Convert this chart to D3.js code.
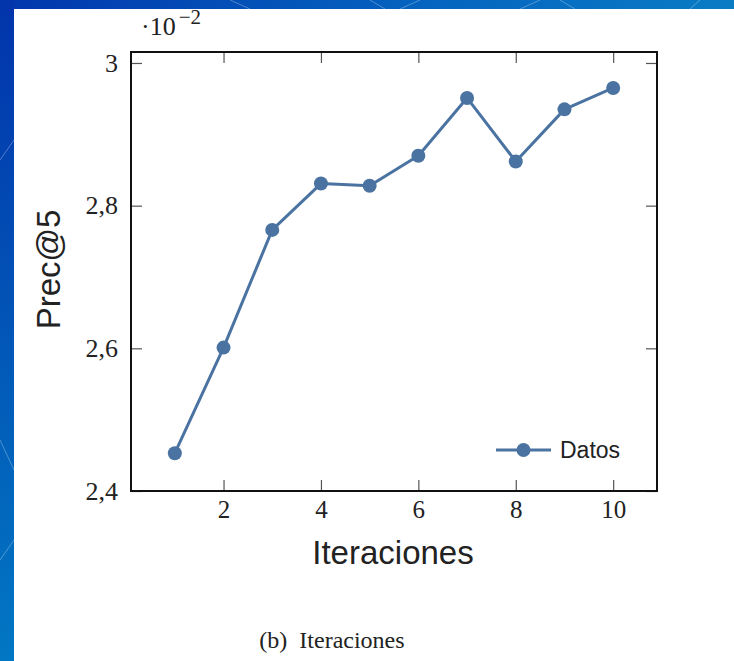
<!DOCTYPE html>
<html>
<head>
<meta charset="utf-8">
<script src="https://cdn.jsdelivr.net/npm/d3@7"></script>
<style>
html,body{margin:0;padding:0;background:#fff;}
svg{display:block;}
</style>
</head>
<body>
<svg id="chart" width="734" height="661"></svg>
<script>
// ---- data ----
const iterations = [1, 2, 3, 4, 5, 6, 7, 8, 9, 10];
const precValues = [2.453, 2.601, 2.766, 2.831, 2.828, 2.870, 2.951, 2.862, 2.935, 2.965];
const xTickValues = [2, 4, 6, 8, 10];
const yTickValues = [2.4, 2.6, 2.8, 3.0];
const yTickLabels = ["2,4", "2,6", "2,8", "3"];
const seriesName = "Datos";
const xTitle = "Iteraciones";
const yTitle = "Prec@5";
const caption = "(b)\u2002Iteraciones";

(function () {
const svg = d3.select("#chart");
const W = 734, H = 661;

// slide background
const defs = svg.append("defs");
const gradL = defs.append("linearGradient").attr("id", "bgL")
  .attr("x1", "0").attr("y1", "0").attr("x2", "0").attr("y2", "1");
gradL.append("stop").attr("offset", "0").attr("stop-color", "#0234ab");
gradL.append("stop").attr("offset", "1").attr("stop-color", "#0277c3");
const gradT = defs.append("linearGradient").attr("id", "bgT")
  .attr("x1", "0").attr("y1", "0").attr("x2", "1").attr("y2", "0");
gradT.append("stop").attr("offset", "0").attr("stop-color", "#0236ad");
gradT.append("stop").attr("offset", "0.6").attr("stop-color", "#0565c0");
gradT.append("stop").attr("offset", "1").attr("stop-color", "#0a7cc4");

svg.append("rect").attr("x", 0).attr("y", 0).attr("width", W).attr("height", H).attr("fill", "#ffffff");
svg.append("rect").attr("x", 0).attr("y", 0).attr("width", W).attr("height", 9).attr("fill", "url(#bgT)");
svg.append("rect").attr("x", 0).attr("y", 0).attr("width", 14).attr("height", H).attr("fill", "url(#bgL)");

// faint network lines in the slide background
const bgLines = svg.append("g").attr("stroke", "#ffffff").attr("stroke-opacity", 0.3).attr("fill", "none").attr("stroke-width", 1);
[[230, 0, 250, 9], [370, 0, 385, 9], [540, 0, 520, 9], [560, 0, 575, 9],
 [420, 0, 400, 9], [700, 0, 690, 9]].forEach(l => {
  bgLines.append("line").attr("x1", l[0]).attr("y1", l[1]).attr("x2", l[2]).attr("y2", l[3]);
});
[[0, 160, 14, 140], [0, 440, 14, 470], [0, 560, 14, 540]].forEach(l => {
  bgLines.append("line").attr("x1", l[0]).attr("y1", l[1]).attr("x2", l[2]).attr("y2", l[3]);
});

// ---- plot area ----
const pL = 131, pR = 657, pT = 52, pB = 491;
const x = d3.scaleLinear().domain([0.1, 10.9]).range([pL, pR]);
const y = d3.scaleLinear().domain([2.4, 3.0154]).range([pB, pT]);

const tickLen = 11;
const tickColor = "#555";
const serif = "'Liberation Serif','DejaVu Serif',serif";
const sans = "'Liberation Sans',Arial,sans-serif";

// bottom axis (ticks inward)
const xAxisB = d3.axisBottom(x).tickValues(xTickValues).tickSize(-tickLen).tickPadding(9)
  .tickFormat(d3.format("d"));
const gxb = svg.append("g").attr("transform", `translate(0,${pB})`).call(xAxisB);
gxb.select(".domain").remove();
gxb.selectAll(".tick line").attr("stroke", tickColor).attr("stroke-width", 1.2);
gxb.selectAll(".tick text").attr("font-family", serif).attr("font-size", 25).attr("fill", "#222");

// top axis ticks
const xAxisT = d3.axisTop(x).tickValues(xTickValues).tickSize(-tickLen).tickFormat("");
const gxt = svg.append("g").attr("transform", `translate(0,${pT})`).call(xAxisT);
gxt.select(".domain").remove();
gxt.selectAll(".tick line").attr("stroke", tickColor).attr("stroke-width", 1.2);

// left axis
const yAxisL = d3.axisLeft(y).tickValues(yTickValues).tickSize(-tickLen).tickPadding(13)
  .tickFormat((d, i) => yTickLabels[i]);
const gyl = svg.append("g").attr("transform", `translate(${pL},0)`).call(yAxisL);
gyl.select(".domain").remove();
gyl.selectAll(".tick line").attr("stroke", tickColor).attr("stroke-width", 1.2);
gyl.selectAll(".tick text").attr("font-family", serif).attr("font-size", 26).attr("fill", "#222");

// right axis ticks
const yAxisR = d3.axisRight(y).tickValues(yTickValues).tickSize(-tickLen).tickFormat("");
const gyr = svg.append("g").attr("transform", `translate(${pR},0)`).call(yAxisR);
gyr.select(".domain").remove();
gyr.selectAll(".tick line").attr("stroke", tickColor).attr("stroke-width", 1.2);

// frame
svg.append("rect").attr("x", pL).attr("y", pT).attr("width", pR - pL).attr("height", pB - pT)
  .attr("fill", "none").attr("stroke", "#111").attr("stroke-width", 2);

// scale factor label ·10^-2
const sf = svg.append("text").attr("x", 141).attr("y", 35)
  .attr("font-family", serif).attr("font-size", 26).attr("fill", "#222");
sf.append("tspan").text("\u00b710");
sf.append("tspan").attr("dy", -11).attr("dx", 3).attr("font-size", 21).text("\u22122");

// ---- series ----
const color = "#4a73a2";
const data = iterations.map((it, i) => ({ it, v: precValues[i] }));
const line = d3.line().x(d => x(d.it)).y(d => y(d.v));
svg.append("path").datum(data).attr("d", line).attr("fill", "none")
  .attr("stroke", color).attr("stroke-width", 3).attr("stroke-linejoin", "round");
svg.append("g").selectAll("circle").data(data).join("circle")
  .attr("cx", d => x(d.it)).attr("cy", d => y(d.v)).attr("r", 7).attr("fill", color);

// legend
const lg = svg.append("g").attr("transform", "translate(496,450)");
lg.append("line").attr("x1", 0).attr("x2", 55).attr("y1", 0).attr("y2", 0)
  .attr("stroke", color).attr("stroke-width", 3);
lg.append("circle").attr("cx", 27.5).attr("cy", 0).attr("r", 7).attr("fill", color);
lg.append("text").attr("x", 64).attr("y", 8).text(seriesName)
  .attr("font-family", sans).attr("font-size", 23).attr("fill", "#222");

// axis titles
svg.append("text").attr("x", (pL + pR) / 2 - 1).attr("y", 564).attr("text-anchor", "middle")
  .attr("font-family", sans).attr("font-size", 33).attr("fill", "#222")
  .text(xTitle);
svg.append("text").attr("transform", `translate(60,${(pT + pB) / 2 - 2}) rotate(-90)`)
  .attr("text-anchor", "middle")
  .attr("font-family", sans).attr("font-size", 33).attr("fill", "#222")
  .text(yTitle);

// caption
svg.append("text").attr("x", 332).attr("y", 648).attr("text-anchor", "middle")
  .attr("font-family", serif).attr("font-size", 24).attr("fill", "#222")
  .text(caption);
})();
</script>
</body>
</html>
